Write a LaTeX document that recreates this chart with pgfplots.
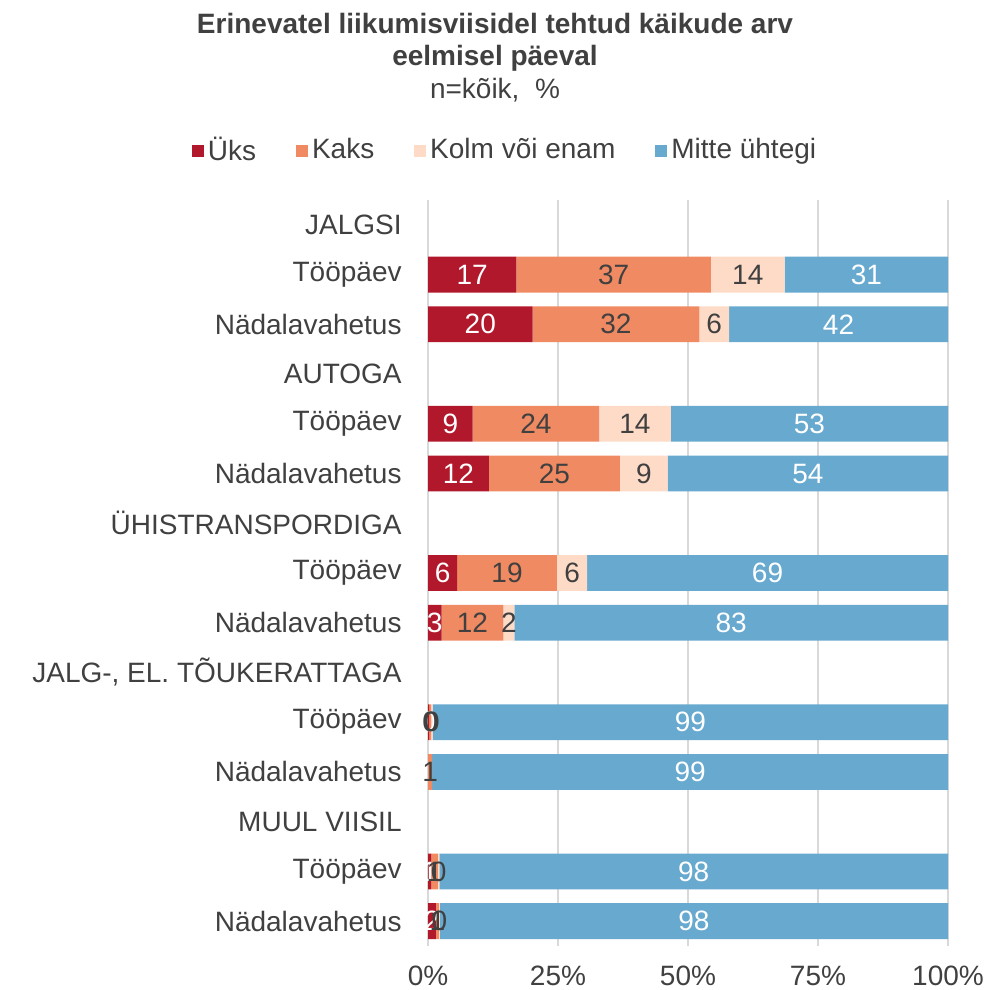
\documentclass[border=0pt]{standalone}
\usepackage{pgfplots}
\usepackage{pgfplotstable}
\pgfplotsset{compat=1.18}
\usepackage{fontspec}
\setmainfont{Liberation Sans}
\definecolor{cRed}{HTML}{B2182B}
\definecolor{cOrange}{HTML}{EF8A62}
\definecolor{cLight}{HTML}{FDDBC7}
\definecolor{cBlue}{HTML}{67A9CF}
\definecolor{txt}{HTML}{404040}
\definecolor{gridc}{HTML}{D9D9D9}
\newcommand{\fs}{\fontsize{14bp}{16.8bp}\selectfont}

% y = row, u = Üks, k = Kaks, l = Kolm või enam, m = Mitte ühtegi
\pgfplotstableread{
y u k l m
1 17.0 37.4 14.2 31.4
2 20.1 32.1 5.7 42.1
4 8.6 24.3 13.8 53.3
5 11.7 25.2 9.2 53.9
7 5.6 19.2 5.8 69.4
8 2.6 11.9 2.1 83.4
10 0.2 0.4 0.3 99.1
11 0 0.8 0 99.2
13 0.6 1.3 0.3 97.8
14 1.5 0.6 0.2 97.7
}\data

\pgfplotsset{
  frame/.style={
    at={(214bp,22bp)}, anchor=south west,
    scale only axis, width=260bp, height=373bp,
    xmin=0, xmax=100, ymin=-0.5, ymax=14.5, y dir=reverse,
  },
  lab/.style={
    draw=none, mark=none, point meta=explicit,
    nodes near coords={%
      \pgfmathfloatifflags{\pgfplotspointmeta}{0}{}{\pgfmathprintnumber[fixed,precision=0,assume math mode=true]{\pgfplotspointmeta}}},
    every node near coord/.style={font=\fs, anchor=center, inner sep=0pt, text=#1},
  },
}

\begin{document}
\begin{tikzpicture}
\begin{axis}[
  frame,
  xbar stacked, bar width=0.72,
  xtick={0,25,50,75,100},
  xticklabel={\pgfmathprintnumber{\tick}\%},
  ytick={0,...,14},
  yticklabels={JALGSI,Tööpäev,Nädalavahetus,AUTOGA,Tööpäev,Nädalavahetus,ÜHISTRANSPORDIGA,Tööpäev,Nädalavahetus,{JALG-, EL. TÕUKERATTAGA},Tööpäev,Nädalavahetus,MUUL VIISIL,Tööpäev,Nädalavahetus},
  xmajorgrids, major grid style={draw=gridc, line width=1bp},
  axis line style={draw=none}, major tick length=0pt,
  tick label style={font=\fs, text=txt},
  yticklabel style={inner sep=0pt, anchor=east, xshift=-13bp},
  xticklabel style={inner sep=0pt, anchor=north, yshift=-10bp},
  /pgf/number format/assume math mode=true,
  legend columns=4,
  legend image code/.code={\fill[#1] (0bp,-3.5bp) rectangle (6bp,2.5bp);},
  legend style={at={(0.15,1.067)}, anchor=center, draw=none, fill=none, font=\fs, text=txt,
    /tikz/every even column/.append style={column sep=18bp}},
]
\addplot[fill=cRed, draw=none] table[x=u,y=y] {\data};
\addlegendentry{Üks}
\addplot[fill=cOrange, draw=none] table[x=k,y=y] {\data};
\addlegendentry{Kaks}
\addplot[fill=cLight, draw=none] table[x=l,y=y] {\data};
\addlegendentry{Kolm või enam}
\addplot[fill=cBlue, draw=none] table[x=m,y=y] {\data};
\addlegendentry{Mitte ühtegi}
\end{axis}
\begin{axis}[frame, hide axis, /pgf/number format/assume math mode=true]
\addplot[lab=white] table[x expr={\thisrow{u}/2}, y=y, meta=u] {\data};
\addplot[lab=txt] table[x expr={\thisrow{u}+\thisrow{k}/2}, y=y, meta=k] {\data};
\addplot[lab=txt] table[x expr={\thisrow{u}+\thisrow{k}+\thisrow{l}/2}, y=y, meta=l] {\data};
\addplot[lab=white] table[x expr={\thisrow{u}+\thisrow{k}+\thisrow{l}+\thisrow{m}/2}, y=y, meta=m] {\data};
\end{axis}
\node[font=\fs\bfseries, text=txt] at (247.5bp,483bp) {Erinevatel liikumisviisidel tehtud käikude arv};
\node[font=\fs\bfseries, text=txt] at (247.5bp,466bp) {eelmisel päeval};
\node[font=\fs, text=txt] at (247.5bp,450bp) {n=kõik,~ \%};
\pgfresetboundingbox
\path[use as bounding box] (0,0) rectangle (494bp,495bp);
\end{tikzpicture}
\end{document}
